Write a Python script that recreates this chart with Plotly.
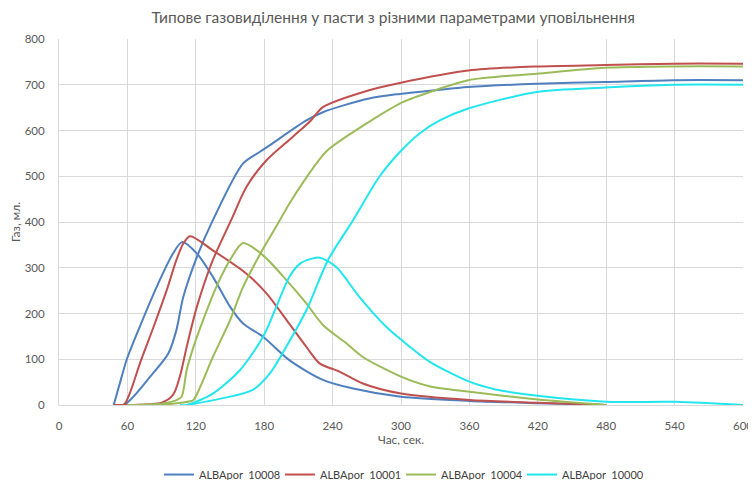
import plotly.graph_objects as go

series_names = ["ALBApor  10008", "ALBApor  10001", "ALBApor  10004", "ALBApor  10000"]
colors = ["#4F7FBF", "#C0504D", "#9BBB59", "#22E6EE"]

# ALBApor 10008
t_rate_10008 = [48, 55, 59.5, 71, 86, 100, 108, 121, 135, 150, 161.5, 179, 202, 231.5, 258, 300, 360, 420, 480]
v_rate_10008 = [0, 62, 100, 172, 260, 331, 356, 331, 280, 215, 178, 149, 98, 55, 36, 18, 9, 4, 0]
t_cum_10008 = [48, 58, 80, 96, 103, 109, 121, 135, 161.5, 176, 185, 217, 231.5, 272, 299, 330, 359, 419, 479, 539, 600]
v_cum_10008 = [0, 2, 62, 113, 164, 236, 324, 404, 528, 553, 568, 622, 640, 670, 680, 688, 695, 702, 706, 710, 710]

# ALBApor 10001
t_rate_10001 = [48, 57, 62, 71, 83, 94.5, 103, 109, 115, 135, 164.5, 182, 199.5, 217, 228.6, 246, 266.5, 300, 360, 420, 480]
v_rate_10001 = [0, 1, 25, 91, 171, 251, 317, 353, 369, 338, 287, 244, 186, 127, 91, 73, 47, 25, 11, 5, 0]
t_cum_10001 = [48, 60, 90, 100, 106, 112, 121, 135, 151, 164.5, 182, 205, 221, 231.5, 272, 299, 359, 419, 479, 539, 600]
v_cum_10001 = [0, 0, 5, 22, 62, 127, 215, 317, 404, 477, 535, 586, 622, 651, 688, 704, 731, 740, 743, 746, 746]

# ALBApor 10004
t_rate_10004 = [60, 90, 100, 104, 107.6, 112, 118, 126.5, 138, 150, 161.5, 179, 199.5, 217, 231.5, 252, 266.5, 300, 325, 360, 420, 480]
v_rate_10004 = [0, 3, 8, 12, 18, 76, 127, 186, 258, 317, 354, 327, 273, 222, 175, 135, 105, 62, 41, 29, 12, 0]
t_cum_10004 = [60, 100, 115, 118, 124, 135, 150, 161.5, 176, 190, 202, 215, 231.5, 237, 272, 301.5, 330, 359, 419, 479, 539, 600]
v_cum_10004 = [0, 3, 8, 11, 40, 105, 185, 258, 328, 388, 440, 490, 546, 560, 619, 662, 688, 710, 724, 737, 740, 740]

# ALBApor 10000
t_rate_10000 = [106, 112, 135, 158.6, 179, 190.7, 202, 212, 222, 229, 243, 263.6, 287, 300, 325, 360, 383, 420, 480, 540, 600]
v_rate_10000 = [0, 0, 25, 76, 149, 215, 280, 310, 320, 322, 302, 236, 171, 143, 95, 51, 34, 20, 7, 7, 0]
t_cum_10000 = [112, 144, 170, 185, 200, 217, 236, 258, 281, 299, 316, 334, 359, 419, 479, 539, 600]
v_cum_10000 = [0, 15, 33, 69, 130, 207, 317, 404, 499, 553, 593, 622, 648, 684, 694, 700, 700]

x_ticks = [0, 60, 120, 180, 240, 300, 360, 420, 480, 540, 600]
y_ticks = [0, 100, 200, 300, 400, 500, 600, 700, 800]

data = [
    (t_rate_10008, v_rate_10008, t_cum_10008, v_cum_10008),
    (t_rate_10001, v_rate_10001, t_cum_10001, v_cum_10001),
    (t_rate_10004, v_rate_10004, t_cum_10004, v_cum_10004),
    (t_rate_10000, v_rate_10000, t_cum_10000, v_cum_10000),
]

fig = go.Figure()
for name, color, (tr, vr, tc, vc) in zip(series_names, colors, data):
    fig.add_trace(go.Scatter(x=tc, y=vc, mode="lines", name=name, legendgroup=name,
                             line=dict(color=color, width=2, shape="spline", smoothing=0.8),
                             showlegend=True))
    fig.add_trace(go.Scatter(x=tr, y=vr, mode="lines", name=name, legendgroup=name,
                             line=dict(color=color, width=2, shape="spline", smoothing=0.8),
                             showlegend=False))

font_family = "Lato, Open Sans, sans-serif"
gray = "#595959"

# the page body has an 8px margin; keep the figure inside the window without scrolling
fig.update_layout(
    width=748, height=472,
    margin=dict(l=51, r=13, t=31, b=75, autoexpand=False),
    paper_bgcolor="white", plot_bgcolor="white",
    font=dict(family=font_family, size=11, color=gray),
    title=dict(text="Типове газовиділення у пасти з різними параметрами уповільнення",
               x=0.515, xanchor="center", y=0.979, yanchor="middle",
               font=dict(family=font_family, size=15.5, color=gray)),
    showlegend=True,
    legend=dict(orientation="h", x=0.5, xanchor="center", y=-0.19, yanchor="middle",
                font=dict(size=11, color="#404040"), traceorder="normal",
                itemwidth=30, entrywidth=76, entrywidthmode="pixels",
                bgcolor="rgba(0,0,0,0)"),
)
fig.update_xaxes(range=[0, 600], tickvals=x_ticks, ticktext=[str(v) for v in x_ticks],
                 showgrid=True, gridcolor="#D9D9D9", gridwidth=1, automargin=False,
                 showline=True, linecolor="#D9D9D9", linewidth=1, zeroline=False,
                 ticks="outside", ticklen=10, tickcolor="rgba(0,0,0,0)",
                 tickfont=dict(size=11.5), ticklabeloverflow="allow",
                 title=dict(text="Час, сек.", standoff=3, font=dict(size=12, color=gray)))
fig.update_yaxes(range=[0, 800], tickvals=y_ticks, ticktext=[str(v) for v in y_ticks],
                 showgrid=True, gridcolor="#D9D9D9", gridwidth=1, automargin=False,
                 showline=True, linecolor="#D9D9D9", linewidth=1, zeroline=False,
                 ticks="outside", ticklen=11, tickcolor="rgba(0,0,0,0)",
                 tickfont=dict(size=11.5),
                 title=dict(text="Газ, мл.", standoff=16, font=dict(size=12, color=gray)))

fig.write_html("out.html")
